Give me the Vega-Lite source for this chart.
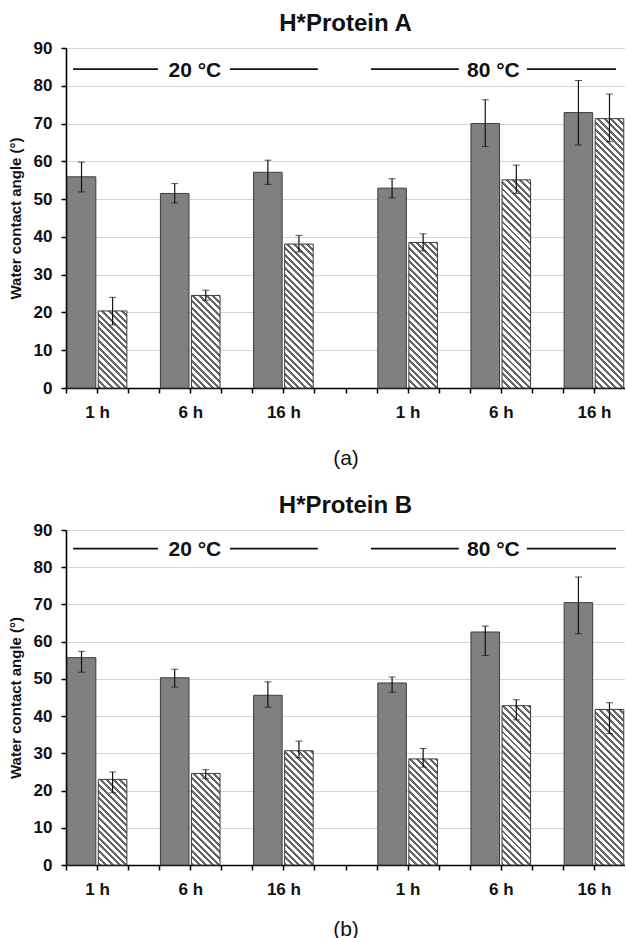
{
  "$schema": "https://vega.github.io/schema/vega-lite/v6.json",
  "background": "white",
  "padding": {"left": 8, "top": 12, "right": 0, "bottom": 0},
  "spacing": 26,
  "config": {"view": {"stroke": null}, "font": "Liberation Sans",
    "axisY": {"title":"Water contact angle (°)","titleFont":"Liberation Sans","titleFontSize":15,"titleFontWeight":"bold","titleColor":"#111111","titlePadding":10,
      "values":[0,10,20,30,40,50,60,70,80,90],"labelFont":"Liberation Sans","labelFontSize":17,"labelFontWeight":"bold","labelColor":"#111111","labelPadding":9,
      "domainColor":"#000000","domainWidth":1.6,"tickColor":"#000000","tickWidth":1.5,"tickSize":5,"gridColor":"#d4d4d4","gridWidth":1,"labelOverlap":false}},
  "params": [
    {"name": "hatchStops", "value": [
      {"offset":0,"color":"#666666"},{"offset":0.009,"color":"#666666"},{"offset":0.009,"color":"#ffffff"},{"offset":0.02,"color":"#ffffff"},
      {"offset":0.02,"color":"#666666"},{"offset":0.029,"color":"#666666"},{"offset":0.029,"color":"#ffffff"},{"offset":0.04,"color":"#ffffff"},
      {"offset":0.04,"color":"#666666"},{"offset":0.049,"color":"#666666"},{"offset":0.049,"color":"#ffffff"},{"offset":0.06,"color":"#ffffff"},
      {"offset":0.06,"color":"#666666"},{"offset":0.069,"color":"#666666"},{"offset":0.069,"color":"#ffffff"},{"offset":0.08,"color":"#ffffff"},
      {"offset":0.08,"color":"#666666"},{"offset":0.089,"color":"#666666"},{"offset":0.089,"color":"#ffffff"},{"offset":0.10,"color":"#ffffff"},
      {"offset":0.10,"color":"#666666"},{"offset":0.109,"color":"#666666"},{"offset":0.109,"color":"#ffffff"},{"offset":0.12,"color":"#ffffff"},
      {"offset":0.12,"color":"#666666"},{"offset":0.129,"color":"#666666"},{"offset":0.129,"color":"#ffffff"},{"offset":0.14,"color":"#ffffff"},
      {"offset":0.14,"color":"#666666"},{"offset":0.149,"color":"#666666"},{"offset":0.149,"color":"#ffffff"},{"offset":0.16,"color":"#ffffff"},
      {"offset":0.16,"color":"#666666"},{"offset":0.169,"color":"#666666"},{"offset":0.169,"color":"#ffffff"},{"offset":0.18,"color":"#ffffff"},
      {"offset":0.18,"color":"#666666"},{"offset":0.189,"color":"#666666"},{"offset":0.189,"color":"#ffffff"},{"offset":0.20,"color":"#ffffff"},
      {"offset":0.20,"color":"#666666"},{"offset":0.209,"color":"#666666"},{"offset":0.209,"color":"#ffffff"},{"offset":0.22,"color":"#ffffff"},
      {"offset":0.22,"color":"#666666"},{"offset":0.229,"color":"#666666"},{"offset":0.229,"color":"#ffffff"},{"offset":0.24,"color":"#ffffff"},
      {"offset":0.24,"color":"#666666"},{"offset":0.249,"color":"#666666"},{"offset":0.249,"color":"#ffffff"},{"offset":0.26,"color":"#ffffff"},
      {"offset":0.26,"color":"#666666"},{"offset":0.269,"color":"#666666"},{"offset":0.269,"color":"#ffffff"},{"offset":0.28,"color":"#ffffff"},
      {"offset":0.28,"color":"#666666"},{"offset":0.289,"color":"#666666"},{"offset":0.289,"color":"#ffffff"},{"offset":0.30,"color":"#ffffff"},
      {"offset":0.30,"color":"#666666"},{"offset":0.309,"color":"#666666"},{"offset":0.309,"color":"#ffffff"},{"offset":0.32,"color":"#ffffff"},
      {"offset":0.32,"color":"#666666"},{"offset":0.329,"color":"#666666"},{"offset":0.329,"color":"#ffffff"},{"offset":0.34,"color":"#ffffff"},
      {"offset":0.34,"color":"#666666"},{"offset":0.349,"color":"#666666"},{"offset":0.349,"color":"#ffffff"},{"offset":0.36,"color":"#ffffff"},
      {"offset":0.36,"color":"#666666"},{"offset":0.369,"color":"#666666"},{"offset":0.369,"color":"#ffffff"},{"offset":0.38,"color":"#ffffff"},
      {"offset":0.38,"color":"#666666"},{"offset":0.389,"color":"#666666"},{"offset":0.389,"color":"#ffffff"},{"offset":0.40,"color":"#ffffff"},
      {"offset":0.40,"color":"#666666"},{"offset":0.409,"color":"#666666"},{"offset":0.409,"color":"#ffffff"},{"offset":0.42,"color":"#ffffff"},
      {"offset":0.42,"color":"#666666"},{"offset":0.429,"color":"#666666"},{"offset":0.429,"color":"#ffffff"},{"offset":0.44,"color":"#ffffff"},
      {"offset":0.44,"color":"#666666"},{"offset":0.449,"color":"#666666"},{"offset":0.449,"color":"#ffffff"},{"offset":0.46,"color":"#ffffff"},
      {"offset":0.46,"color":"#666666"},{"offset":0.469,"color":"#666666"},{"offset":0.469,"color":"#ffffff"},{"offset":0.48,"color":"#ffffff"},
      {"offset":0.48,"color":"#666666"},{"offset":0.489,"color":"#666666"},{"offset":0.489,"color":"#ffffff"},{"offset":0.50,"color":"#ffffff"},
      {"offset":0.50,"color":"#666666"},{"offset":0.509,"color":"#666666"},{"offset":0.509,"color":"#ffffff"},{"offset":0.52,"color":"#ffffff"},
      {"offset":0.52,"color":"#666666"},{"offset":0.529,"color":"#666666"},{"offset":0.529,"color":"#ffffff"},{"offset":0.54,"color":"#ffffff"},
      {"offset":0.54,"color":"#666666"},{"offset":0.549,"color":"#666666"},{"offset":0.549,"color":"#ffffff"},{"offset":0.56,"color":"#ffffff"},
      {"offset":0.56,"color":"#666666"},{"offset":0.569,"color":"#666666"},{"offset":0.569,"color":"#ffffff"},{"offset":0.58,"color":"#ffffff"},
      {"offset":0.58,"color":"#666666"},{"offset":0.589,"color":"#666666"},{"offset":0.589,"color":"#ffffff"},{"offset":0.60,"color":"#ffffff"},
      {"offset":0.60,"color":"#666666"},{"offset":0.609,"color":"#666666"},{"offset":0.609,"color":"#ffffff"},{"offset":0.62,"color":"#ffffff"},
      {"offset":0.62,"color":"#666666"},{"offset":0.629,"color":"#666666"},{"offset":0.629,"color":"#ffffff"},{"offset":0.64,"color":"#ffffff"},
      {"offset":0.64,"color":"#666666"},{"offset":0.649,"color":"#666666"},{"offset":0.649,"color":"#ffffff"},{"offset":0.66,"color":"#ffffff"},
      {"offset":0.66,"color":"#666666"},{"offset":0.669,"color":"#666666"},{"offset":0.669,"color":"#ffffff"},{"offset":0.68,"color":"#ffffff"},
      {"offset":0.68,"color":"#666666"},{"offset":0.689,"color":"#666666"},{"offset":0.689,"color":"#ffffff"},{"offset":0.70,"color":"#ffffff"},
      {"offset":0.70,"color":"#666666"},{"offset":0.709,"color":"#666666"},{"offset":0.709,"color":"#ffffff"},{"offset":0.72,"color":"#ffffff"},
      {"offset":0.72,"color":"#666666"},{"offset":0.729,"color":"#666666"},{"offset":0.729,"color":"#ffffff"},{"offset":0.74,"color":"#ffffff"},
      {"offset":0.74,"color":"#666666"},{"offset":0.749,"color":"#666666"},{"offset":0.749,"color":"#ffffff"},{"offset":0.76,"color":"#ffffff"},
      {"offset":0.76,"color":"#666666"},{"offset":0.769,"color":"#666666"},{"offset":0.769,"color":"#ffffff"},{"offset":0.78,"color":"#ffffff"},
      {"offset":0.78,"color":"#666666"},{"offset":0.789,"color":"#666666"},{"offset":0.789,"color":"#ffffff"},{"offset":0.80,"color":"#ffffff"},
      {"offset":0.80,"color":"#666666"},{"offset":0.809,"color":"#666666"},{"offset":0.809,"color":"#ffffff"},{"offset":0.82,"color":"#ffffff"},
      {"offset":0.82,"color":"#666666"},{"offset":0.829,"color":"#666666"},{"offset":0.829,"color":"#ffffff"},{"offset":0.84,"color":"#ffffff"},
      {"offset":0.84,"color":"#666666"},{"offset":0.849,"color":"#666666"},{"offset":0.849,"color":"#ffffff"},{"offset":0.86,"color":"#ffffff"},
      {"offset":0.86,"color":"#666666"},{"offset":0.869,"color":"#666666"},{"offset":0.869,"color":"#ffffff"},{"offset":0.88,"color":"#ffffff"},
      {"offset":0.88,"color":"#666666"},{"offset":0.889,"color":"#666666"},{"offset":0.889,"color":"#ffffff"},{"offset":0.90,"color":"#ffffff"},
      {"offset":0.90,"color":"#666666"},{"offset":0.909,"color":"#666666"},{"offset":0.909,"color":"#ffffff"},{"offset":0.92,"color":"#ffffff"},
      {"offset":0.92,"color":"#666666"},{"offset":0.929,"color":"#666666"},{"offset":0.929,"color":"#ffffff"},{"offset":0.94,"color":"#ffffff"},
      {"offset":0.94,"color":"#666666"},{"offset":0.949,"color":"#666666"},{"offset":0.949,"color":"#ffffff"},{"offset":0.96,"color":"#ffffff"},
      {"offset":0.96,"color":"#666666"},{"offset":0.969,"color":"#666666"},{"offset":0.969,"color":"#ffffff"},{"offset":0.98,"color":"#ffffff"},
      {"offset":0.98,"color":"#666666"},{"offset":0.989,"color":"#666666"},{"offset":0.989,"color":"#ffffff"},{"offset":1,"color":"#ffffff"}
    ]}
  ],
  "datasets": {
    "protA": [
      {"bar":"20 °C 1 h S1","temp":"20 °C","time":"1 h","series":"S1","value":55.9,"lo":51.9,"hi":59.8},
      {"bar":"20 °C 1 h S2","temp":"20 °C","time":"1 h","series":"S2","value":20.4,"lo":16.7,"hi":24.0},
      {"bar":"20 °C 6 h S1","temp":"20 °C","time":"6 h","series":"S1","value":51.5,"lo":49.0,"hi":54.1},
      {"bar":"20 °C 6 h S2","temp":"20 °C","time":"6 h","series":"S2","value":24.5,"lo":23.2,"hi":25.9},
      {"bar":"20 °C 16 h S1","temp":"20 °C","time":"16 h","series":"S1","value":57.1,"lo":53.9,"hi":60.3},
      {"bar":"20 °C 16 h S2","temp":"20 °C","time":"16 h","series":"S2","value":38.1,"lo":36.0,"hi":40.4},
      {"bar":"80 °C 1 h S1","temp":"80 °C","time":"1 h","series":"S1","value":52.9,"lo":50.3,"hi":55.4},
      {"bar":"80 °C 1 h S2","temp":"80 °C","time":"1 h","series":"S2","value":38.5,"lo":36.3,"hi":40.8},
      {"bar":"80 °C 6 h S1","temp":"80 °C","time":"6 h","series":"S1","value":70.0,"lo":63.9,"hi":76.3},
      {"bar":"80 °C 6 h S2","temp":"80 °C","time":"6 h","series":"S2","value":55.1,"lo":51.5,"hi":59.0},
      {"bar":"80 °C 16 h S1","temp":"80 °C","time":"16 h","series":"S1","value":72.9,"lo":64.3,"hi":81.4},
      {"bar":"80 °C 16 h S2","temp":"80 °C","time":"16 h","series":"S2","value":71.3,"lo":65.2,"hi":77.8}
    ],
    "protB": [
      {"bar":"20 °C 1 h S1","temp":"20 °C","time":"1 h","series":"S1","value":55.7,"lo":51.8,"hi":57.4},
      {"bar":"20 °C 1 h S2","temp":"20 °C","time":"1 h","series":"S2","value":23.0,"lo":19.4,"hi":25.0},
      {"bar":"20 °C 6 h S1","temp":"20 °C","time":"6 h","series":"S1","value":50.3,"lo":47.8,"hi":52.6},
      {"bar":"20 °C 6 h S2","temp":"20 °C","time":"6 h","series":"S2","value":24.6,"lo":23.2,"hi":25.6},
      {"bar":"20 °C 16 h S1","temp":"20 °C","time":"16 h","series":"S1","value":45.6,"lo":42.4,"hi":49.2},
      {"bar":"20 °C 16 h S2","temp":"20 °C","time":"16 h","series":"S2","value":30.7,"lo":28.8,"hi":33.3},
      {"bar":"80 °C 1 h S1","temp":"80 °C","time":"1 h","series":"S1","value":48.9,"lo":46.4,"hi":50.5},
      {"bar":"80 °C 1 h S2","temp":"80 °C","time":"1 h","series":"S2","value":28.5,"lo":26.3,"hi":31.3},
      {"bar":"80 °C 6 h S1","temp":"80 °C","time":"6 h","series":"S1","value":62.6,"lo":56.3,"hi":64.2},
      {"bar":"80 °C 6 h S2","temp":"80 °C","time":"6 h","series":"S2","value":42.8,"lo":39.0,"hi":44.4},
      {"bar":"80 °C 16 h S1","temp":"80 °C","time":"16 h","series":"S1","value":70.5,"lo":62.1,"hi":77.4},
      {"bar":"80 °C 16 h S2","temp":"80 °C","time":"16 h","series":"S2","value":41.8,"lo":35.3,"hi":43.6}
    ],
    "tempLines": [
      {"temp":"20 °C","from":0.23,"to":2.96},
      {"temp":"20 °C","from":5.28,"to":8.11},
      {"temp":"80 °C","from":9.82,"to":12.65},
      {"temp":"80 °C","from":14.84,"to":17.71}
    ],
    "tempLabels": [
      {"temp":"20 °C","at":4.15},
      {"temp":"80 °C","at":13.76}
    ]
  },
  "vconcat": [
    {
      "width": 559,
      "height": 340,
      "title": {"text":"H*Protein A","font":"Liberation Sans","fontSize":24,"fontWeight":"bold","color":"#111111","frame":"group","anchor":"middle","baseline":"bottom","offset":-21},
      "layer": [
        {
          "data": {"name": "protA"},
          "encoding": {
            "x": {"field":"bar","type":"nominal",
              "scale":{"domain":["20 °C 1 h S1","20 °C 1 h S2","gap1","20 °C 6 h S1","20 °C 6 h S2","gap2","20 °C 16 h S1","20 °C 16 h S2","gap3","gap4","80 °C 1 h S1","80 °C 1 h S2","gap5","80 °C 6 h S1","80 °C 6 h S2","gap6","80 °C 16 h S1","80 °C 16 h S2"],"paddingInner":0.08,"paddingOuter":0.04},
              "axis":{"title":"(a)","titleFont":"Liberation Sans","titleFontSize":21,"titleFontWeight":"normal","titleColor":"#111111","titlePadding":27,
                "labelExpr":"indexof(datum.value,'S2')>=0 ? split(datum.value,' ')[2] + ' h' : ''",
                "labelAngle":0,"labelFont":"Liberation Sans","labelFontSize":17,"labelFontWeight":"bold","labelColor":"#111111","labelPadding":11,
                "tickOffset":-15.5,"domainColor":"#000000","domainWidth":1.6,"tickColor":"#000000","tickWidth":1.5,"tickSize":5,"grid":false,"labelOverlap":false}},
            "y": {"field":"value","type":"quantitative","scale":{"domain":[0,90],"nice":false},"title":"Water contact angle (°)"}
          },
          "layer": [
            {
              "transform": [{"filter": "datum.series == 'S1'"}],
              "mark": {"type":"bar","fill":"#808080","stroke":"#3c3c3c","strokeWidth":1}
            },
            {
              "transform": [{"filter": "datum.series == 'S2'"}],
              "mark": {"type":"bar","stroke":"#3c3c3c","strokeWidth":1,
                "fill": {"expr": "{gradient: 'linear', x1: 0, y1: 1, x2: 28.57*330/(816.2 + pow(datum.value*3.7778, 2)), y2: 1 - datum.value*3.7778*330/(816.2 + pow(datum.value*3.7778, 2)), stops: hatchStops}"}}
            },
            {
              "mark": {"type":"errorbar","ticks":{"size":7,"color":"#111111","strokeWidth":1.2},"rule":{"color":"#111111","strokeWidth":1.2}},
              "encoding": {
                "y": {"field":"lo","type":"quantitative","title":"Water contact angle (°)"},
                "y2": {"field":"hi"}
              }
            }
          ]
        },
        {
          "layer": [
            {
              "data": {"name": "tempLines"},
              "mark": {"type":"rule","color":"#111111","strokeWidth":1.6},
              "encoding": {
                "x": {"field":"from","type":"quantitative","scale":{"domain":[0,18],"nice":false,"zero":false},"axis":null},
                "x2": {"field":"to"},
                "y": {"datum": 84.4, "type":"quantitative","title":"Water contact angle (°)"}
              }
            },
            {
              "data": {"name": "tempLabels"},
              "mark": {"type":"text","font":"Liberation Sans","fontSize":21,"fontWeight":"bold","color":"#111111","baseline":"middle","align":"center","dy":1.5},
              "encoding": {
                "x": {"field":"at","type":"quantitative","scale":{"domain":[0,18],"nice":false,"zero":false},"axis":null},
                "y": {"datum": 84.4, "type":"quantitative","title":"Water contact angle (°)"},
                "text": {"field":"temp"}
              }
            }
          ]
        }
      ],
      "resolve": {"scale": {"x": "independent"}, "axis": {"x": "independent"}}
    },
    {
      "width": 559,
      "height": 335,
      "title": {"text":"H*Protein B","font":"Liberation Sans","fontSize":24,"fontWeight":"bold","color":"#111111","frame":"group","anchor":"middle","baseline":"bottom","offset":-21},
      "layer": [
        {
          "data": {"name": "protB"},
          "encoding": {
            "x": {"field":"bar","type":"nominal",
              "scale":{"domain":["20 °C 1 h S1","20 °C 1 h S2","gap1","20 °C 6 h S1","20 °C 6 h S2","gap2","20 °C 16 h S1","20 °C 16 h S2","gap3","gap4","80 °C 1 h S1","80 °C 1 h S2","gap5","80 °C 6 h S1","80 °C 6 h S2","gap6","80 °C 16 h S1","80 °C 16 h S2"],"paddingInner":0.08,"paddingOuter":0.04},
              "axis":{"title":"(b)","titleFont":"Liberation Sans","titleFontSize":21,"titleFontWeight":"normal","titleColor":"#111111","titlePadding":21,
                "labelExpr":"indexof(datum.value,'S2')>=0 ? split(datum.value,' ')[2] + ' h' : ''",
                "labelAngle":0,"labelFont":"Liberation Sans","labelFontSize":17,"labelFontWeight":"bold","labelColor":"#111111","labelPadding":11,
                "tickOffset":-15.5,"domainColor":"#000000","domainWidth":1.6,"tickColor":"#000000","tickWidth":1.5,"tickSize":5,"grid":false,"labelOverlap":false}},
            "y": {"field":"value","type":"quantitative","scale":{"domain":[0,90],"nice":false},"title":"Water contact angle (°)"}
          },
          "layer": [
            {
              "transform": [{"filter": "datum.series == 'S1'"}],
              "mark": {"type":"bar","fill":"#808080","stroke":"#3c3c3c","strokeWidth":1}
            },
            {
              "transform": [{"filter": "datum.series == 'S2'"}],
              "mark": {"type":"bar","stroke":"#3c3c3c","strokeWidth":1,
                "fill": {"expr": "{gradient: 'linear', x1: 0, y1: 1, x2: 28.57*330/(816.2 + pow(datum.value*3.7222, 2)), y2: 1 - datum.value*3.7222*330/(816.2 + pow(datum.value*3.7222, 2)), stops: hatchStops}"}}
            },
            {
              "mark": {"type":"errorbar","ticks":{"size":7,"color":"#111111","strokeWidth":1.2},"rule":{"color":"#111111","strokeWidth":1.2}},
              "encoding": {
                "y": {"field":"lo","type":"quantitative","title":"Water contact angle (°)"},
                "y2": {"field":"hi"}
              }
            }
          ]
        },
        {
          "layer": [
            {
              "data": {"name": "tempLines"},
              "mark": {"type":"rule","color":"#111111","strokeWidth":1.6},
              "encoding": {
                "x": {"field":"from","type":"quantitative","scale":{"domain":[0,18],"nice":false,"zero":false},"axis":null},
                "x2": {"field":"to"},
                "y": {"datum": 85, "type":"quantitative","title":"Water contact angle (°)"}
              }
            },
            {
              "data": {"name": "tempLabels"},
              "mark": {"type":"text","font":"Liberation Sans","fontSize":21,"fontWeight":"bold","color":"#111111","baseline":"middle","align":"center","dy":1.5},
              "encoding": {
                "x": {"field":"at","type":"quantitative","scale":{"domain":[0,18],"nice":false,"zero":false},"axis":null},
                "y": {"datum": 85, "type":"quantitative","title":"Water contact angle (°)"},
                "text": {"field":"temp"}
              }
            }
          ]
        }
      ],
      "resolve": {"scale": {"x": "independent"}, "axis": {"x": "independent"}}
    }
  ]
}
